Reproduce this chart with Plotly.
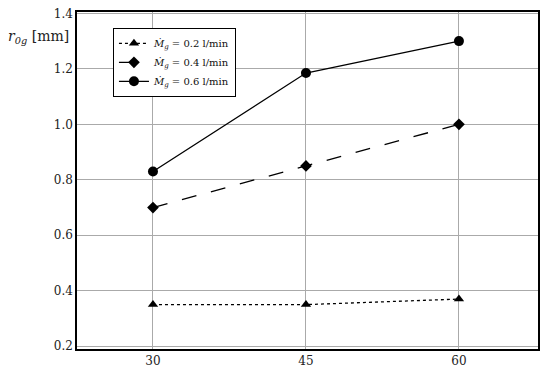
import plotly.graph_objects as go

angles = [30, 45, 60]
r_02 = [0.35, 0.35, 0.37]
r_04 = [0.70, 0.85, 1.00]
r_06 = [0.83, 1.185, 1.30]
names = ["<i>Ṁ<sub>g</sub></i> = 0.2 l/min", "<i>Ṁ<sub>g</sub></i> = 0.4 l/min", "<i>Ṁ<sub>g</sub></i> = 0.6 l/min"]
yticks = [0.2, 0.4, 0.6, 0.8, 1.0, 1.2, 1.4]

FONT = "DejaVu Serif"
fig = go.Figure()
styles = [("dot", "triangle-up", 9), ("longdash", "diamond", 9), ("solid", "circle", 10)]
for vals, name, (dash, sym, sz) in zip([r_02, r_04, r_06], names, styles):
    fig.add_trace(go.Scatter(x=angles, y=vals, name=name, mode="lines+markers",
                             line=dict(color="black", width=1.3, dash=dash),
                             marker=dict(symbol=sym, size=sz, color="black")))

fig.update_layout(
    width=550, height=375,
    margin=dict(l=77, r=12, t=12, b=26),
    paper_bgcolor="white", plot_bgcolor="white",
    font=dict(family=FONT, size=12, color="#222"),
    legend=dict(x=0.078, y=0.953, xanchor="left", yanchor="top",
                bordercolor="black", borderwidth=1, bgcolor="white",
                font=dict(size=10, family=FONT, color="#111"), tracegroupgap=0, itemwidth=30),
    showlegend=True,
)
fig.update_xaxes(range=[22.55, 67.75], tickvals=angles, showgrid=True, gridcolor="#aaa", gridwidth=1,
                 showline=True, linecolor="black", linewidth=1.5, mirror=True, zeroline=False,
                 ticks="", tickfont=dict(size=12), automargin=False)
fig.update_yaxes(range=[0.19, 1.405], tickvals=yticks, ticktext=[f"{v:.1f}" for v in yticks],
                 showgrid=True, gridcolor="#aaa", gridwidth=1,
                 showline=True, linecolor="black", linewidth=1.5, mirror=True, zeroline=False,
                 ticks="", tickfont=dict(size=12), automargin=False)
fig.add_annotation(x=0, y=1, xref="paper", yref="paper", xanchor="right", yanchor="top",
                   xshift=-6, yshift=-14, showarrow=False,
                   text="<i>r</i><sub><i>0g</i></sub> [mm]", font=dict(size=14, family=FONT, color="#222"))
fig.write_html("out.html", config={"displayModeBar": False},
               post_script="document.body.style.margin='0px';")
